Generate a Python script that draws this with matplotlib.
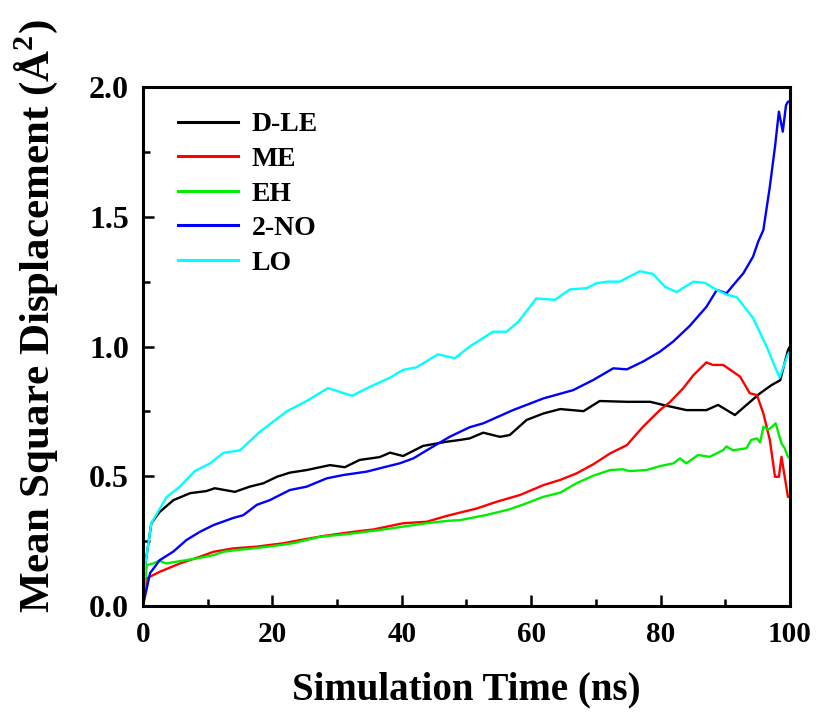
import matplotlib
matplotlib.use("Agg")
import matplotlib.pyplot as plt
from matplotlib.ticker import MultipleLocator, FormatStrFormatter

plt.rcParams['font.family'] = ['Liberation Serif', 'DejaVu Serif']
plt.rcParams['font.weight'] = 'bold'
plt.rcParams['mathtext.fontset'] = 'custom'
plt.rcParams['mathtext.rm'] = 'Liberation Serif:bold'
plt.rcParams['mathtext.bf'] = 'Liberation Serif:bold'

# ---- data ----
lo_t = [0, 0.3, 1.3, 3.65, 5.7, 8.0, 10.4, 12.4, 15.0, 18.0, 22.2, 25.3, 28.6, 32.3, 35.1, 38.2, 40.2,
        42.3, 45.6, 48.2, 50.5, 54.1, 56.2, 58.0, 60.8, 63.7, 66.0, 68.6, 70.1, 71.9, 73.7, 76.8,
        78.8, 80.7, 82.5, 85.1, 86.9, 88.7, 90.2, 91.8, 94.3, 96.4, 98.4, 99.7, 100]
lo_v = [0.0, 0.15, 0.32, 0.42, 0.46, 0.52, 0.55, 0.59, 0.60, 0.67, 0.75, 0.79, 0.84, 0.81, 0.845, 0.88, 0.91,
        0.92, 0.97, 0.955, 1.0, 1.057, 1.057, 1.095, 1.185, 1.18, 1.22, 1.225, 1.244, 1.25, 1.25, 1.29,
        1.28, 1.23, 1.21, 1.25, 1.245, 1.218, 1.2, 1.19, 1.11, 1.0, 0.88, 0.97, 0.98]

dle_t = [0, 0.3, 1.3, 2.6, 4.7, 7.3, 9.8, 11.1, 14.2, 16.5, 18.6, 20.7, 22.7, 25.3, 28.9, 31.2, 33.5,
         36.6, 38.2, 40.2, 43.3, 46.9, 49.0, 50.5, 52.6, 55.2, 56.7, 59.3, 61.9, 64.5, 68.1, 70.6,
         74.8, 78.4, 80.4, 84.0, 87.1, 88.9, 91.5, 93.3, 95.4, 97.2, 98.5, 99.7, 100]
dle_v = [0.0, 0.15, 0.32, 0.363, 0.408, 0.435, 0.443, 0.454, 0.44, 0.46, 0.473, 0.498, 0.514, 0.524, 0.543, 0.535, 0.563,
         0.574, 0.591, 0.578, 0.617, 0.633, 0.64, 0.646, 0.668, 0.652, 0.659, 0.717, 0.742, 0.759, 0.751, 0.79,
         0.787, 0.787, 0.775, 0.755, 0.755, 0.775, 0.736, 0.775, 0.82, 0.852, 0.87, 0.986, 1.0]

no_t = [0, 0.3, 1.1, 2.6, 4.7, 6.7, 8.8, 10.9, 13.9, 15.5, 17.6, 19.6, 22.7, 25.3, 28.4, 31.0, 34.6,
        37.6, 39.7, 41.8, 44.4, 47.4, 50.5, 52.6, 57.2, 61.9, 66.5, 69.6, 72.7, 74.8, 77.3, 79.9,
        82.0, 84.5, 87.1, 88.7, 90.2, 91.5, 92.8, 94.3, 95.1, 95.9, 96.9, 97.7, 98.3, 98.9, 99.4, 99.7, 100]
no_v = [0.0, 0.036, 0.127, 0.177, 0.21, 0.254, 0.286, 0.312, 0.339, 0.35, 0.39, 0.408, 0.447, 0.46, 0.492, 0.505, 0.518,
        0.537, 0.55, 0.569, 0.608, 0.652, 0.689, 0.704, 0.755, 0.8, 0.832, 0.871, 0.916, 0.912, 0.942, 0.98,
        1.02, 1.079, 1.153, 1.218, 1.205, 1.244, 1.282, 1.346, 1.404, 1.449, 1.616, 1.77, 1.905, 1.828, 1.93, 1.943, 1.945]

me_t = [0, 0.1, 0.6, 2.6, 5.7, 8.8, 10.9, 13.9, 17.6, 21.7, 24.3, 27.9, 32.5, 35.6, 40.2, 43.9, 46.9,
        49.0, 51.6, 54.7, 58.3, 61.9, 64.5, 67.0, 69.6, 72.2, 74.8, 77.3, 79.9, 81.5, 83.5, 85.1,
        87.1, 88.1, 89.7, 91.2, 92.3, 93.8, 94.9, 95.9, 96.9, 97.7, 98.3, 98.7, 99.7, 100]
me_v = [0.0, 0.04, 0.107, 0.132, 0.164, 0.19, 0.209, 0.222, 0.229, 0.242, 0.254, 0.27, 0.286, 0.295, 0.319, 0.325, 0.347,
        0.36, 0.376, 0.402, 0.428, 0.466, 0.486, 0.511, 0.546, 0.588, 0.62, 0.691, 0.755, 0.787, 0.839, 0.89,
        0.939, 0.929, 0.929, 0.903, 0.884, 0.82, 0.813, 0.742, 0.64, 0.498, 0.498, 0.575, 0.421, 0.42]

eh_t = [0, 0.1, 0.6, 1.6, 2.5, 3.6, 5.2, 8.0, 10.9, 12.4, 14.5, 17.0, 20.1, 23.2, 27.4, 31.5, 36.6,
        40.2, 44.4, 47.4, 49.0, 53.1, 56.7, 59.3, 61.9, 64.5, 67.0, 69.6, 72.2, 74.2, 75.2, 77.8,
        79.9, 82.0, 83.0, 84.0, 85.8, 87.6, 89.7, 90.2, 91.2, 93.3, 94.0, 94.9, 95.4, 95.9, 96.7,
        97.2, 97.8, 98.7, 99.2, 99.7, 100]
eh_v = [0.0, 0.04, 0.158, 0.164, 0.175, 0.164, 0.171, 0.182, 0.196, 0.209, 0.216, 0.222, 0.231, 0.242, 0.267, 0.277, 0.293,
        0.306, 0.321, 0.329, 0.331, 0.351, 0.373, 0.396, 0.421, 0.437, 0.473, 0.502, 0.524, 0.527, 0.52, 0.524,
        0.539, 0.55, 0.569, 0.55, 0.582, 0.575, 0.601, 0.615, 0.6, 0.608, 0.64, 0.646, 0.63, 0.691, 0.68,
        0.69, 0.704, 0.627, 0.608, 0.575, 0.57]

series = [
    ("D-LE", dle_t, dle_v, "black"),
    ("ME", me_t, me_v, "#ff0000"),
    ("EH", eh_t, eh_v, "#00ee00"),
    ("2-NO", no_t, no_v, "#0000ff"),
    ("LO", lo_t, lo_v, "#00ffff"),
]

fig = plt.figure(figsize=(8.16, 7.13), dpi=100)
ax = fig.add_axes([0.1752, 0.150, 0.7928, 0.728])

for name, t, v, c in series:
    ax.plot(t, v, color=c, lw=1.7, label=name)

ax.set_xlim(0, 100)
ax.set_ylim(0, 2.0)
ax.xaxis.set_major_locator(MultipleLocator(20))
ax.xaxis.set_minor_locator(MultipleLocator(10))
ax.yaxis.set_major_locator(MultipleLocator(0.5))
ax.yaxis.set_minor_locator(MultipleLocator(0.25))
ax.yaxis.set_major_formatter(FormatStrFormatter('%.1f'))
ax.tick_params(which='both', direction='in', top=False, right=False, width=1.8)
ax.tick_params(which='major', length=8)
ax.tick_params(which='minor', length=5)
ax.tick_params(axis='x', which='major', labelsize=21, pad=11)
ax.tick_params(axis='y', which='major', labelsize=23, pad=10)
for lab in ax.get_xticklabels() + ax.get_yticklabels():
    lab.set_fontweight('bold')
for s in ax.spines.values():
    s.set_linewidth(2.2)

ax.set_xlabel('Simulation Time (ns)', fontsize=28, fontweight='bold')
ax.set_ylabel(r'Mean Square Displacement (Å$^{2}$)', fontsize=31, fontweight='bold')
ax.xaxis.set_label_coords(0.5, -0.125)
ax.yaxis.set_label_coords(-0.128, 0.558)

leg = ax.legend(loc='upper left', bbox_to_anchor=(0.054, 0.952), frameon=False,
                prop={'family': 'Liberation Serif', 'weight': 'bold', 'size': 20},
                handlelength=2.16, labelspacing=0.33, handletextpad=0.5,
                borderpad=0, borderaxespad=0)
for h in leg.get_lines():
    h.set_linewidth(2.2)

fig.savefig('out.png', dpi=100)
